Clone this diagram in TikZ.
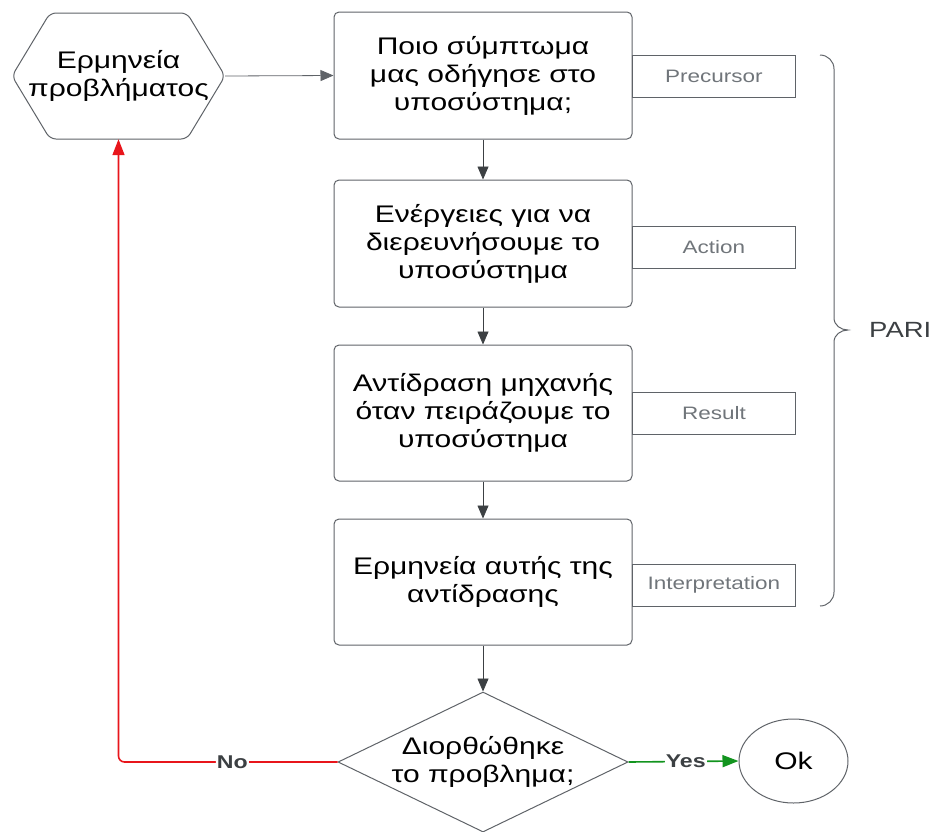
\documentclass[tikz,border=0pt]{standalone}
\usepackage{fontspec}
\setmainfont{Liberation Sans}[FakeStretch=1.25]
\usetikzlibrary{arrows.meta,shapes.geometric}
\definecolor{edge}{HTML}{5F6368}
\definecolor{ink}{HTML}{3C4043}
\definecolor{soft}{HTML}{70757A}
\definecolor{nored}{HTML}{E8151B}
\definecolor{yesgreen}{HTML}{12941E}
\begin{document}
\begin{tikzpicture}[x=1pt,y=-1pt,
  big/.style={font=\fontsize{24}{28}\selectfont},
  stepbox/.style={big,draw=edge,line width=1pt,rounded corners=5pt,minimum width=298pt,
    align=center,inner sep=0pt},
  tagbox/.style={draw=edge,line width=0.8pt,minimum width=163pt,minimum height=42pt,
    font=\fontsize{18}{20}\selectfont,text=soft,inner sep=0pt},
  flow/.style={draw=ink,line width=0.8pt,-{Triangle[length=13pt,width=11pt]}},
  lbl/.style={fill=white,font=\bfseries\fontsize{18.5}{20}\selectfont,text=ink,inner sep=1pt}]
\useasboundingbox (0,0) rectangle (936,831);
% hexagon with its caption
\draw[edge,line width=1pt,rounded corners=6pt,fill=white]
  (12,76) -- (50,13) -- (187,13) -- (225,76) -- (187,139) -- (50,139) -- cycle;
\node[big,minimum width=213pt,minimum height=126pt,inner sep=0pt,align=center]
  (hex) at (118.5,76) {Ερμηνεία\\προβλήματος};
% the four steps
\node[stepbox,minimum height=127pt] (s1) at (483,75.5) {Ποιο σύμπτωμα\\μας οδήγησε στο\\υποσύστημα;};
\node[stepbox,minimum height=127pt] (s2) at (483,243.5) {Ενέργειες για να\\διερευνήσουμε το\\υποσύστημα};
\node[stepbox,minimum height=136pt] (s3) at (483,413) {Αντίδραση μηχανής\\όταν πειράζουμε το\\υποσύστημα};
\node[stepbox,minimum height=126pt] (s4) at (483,582) {Ερμηνεία αυτής της\\αντίδρασης};
% side tags
\node[tagbox,anchor=west] (t1) at (632,76) {Precursor};
\node[tagbox,anchor=west] (t2) at (632,247) {Action};
\node[tagbox,anchor=west] (t3) at (632,413) {Result};
\node[tagbox,anchor=west] (t4) at (632,585) {Interpretation};
% brace and its label
\draw[edge,line width=1pt] (820,55) to[out=0,in=90] (834,69) -- (834,318)
  to[out=-90,in=180] (848,330) to[out=180,in=90] (834,342) -- (834,592)
  to[out=-90,in=0] (820,606);
\node[font=\fontsize{22}{24}\selectfont,text=ink,anchor=west,inner sep=0pt] (pari) at (869,330) {PARI};
% decision and end
\node[big,draw=edge,line width=1pt,shape=diamond,aspect=2.07,minimum width=290pt,
  minimum height=140pt,inner sep=0pt,align=center]
  (dec) at (483,762) {Διορθώθηκε\\το προβλημα;};
\node[big,draw=edge,line width=1pt,shape=ellipse,minimum width=109pt,minimum height=84pt,
  inner sep=0pt] (ok) at (793.5,761) {Ok};
% connectors
\draw[flow,draw=edge] (hex.east) -- (s1.west);
\draw[flow] (s1.south) -- (s2.north);
\draw[flow] (s2.south) -- (s3.north);
\draw[flow] (s3.south) -- (s4.north);
\draw[flow] (s4.south) -- (dec.north);
\coordinate (turn) at (118.5,762);
\draw[nored,line width=1.6pt,rounded corners=6pt,-{Triangle[length=16pt,width=12pt]}]
  (dec.west) -- node[lbl,pos=0.48] {No} (turn) -- (hex.south);
\draw[yesgreen,line width=1.6pt,-{Triangle[length=16pt,width=12pt]}]
  (dec.east) -- node[lbl,pos=0.52] {Yes} (ok.west);
\end{tikzpicture}
\end{document}
